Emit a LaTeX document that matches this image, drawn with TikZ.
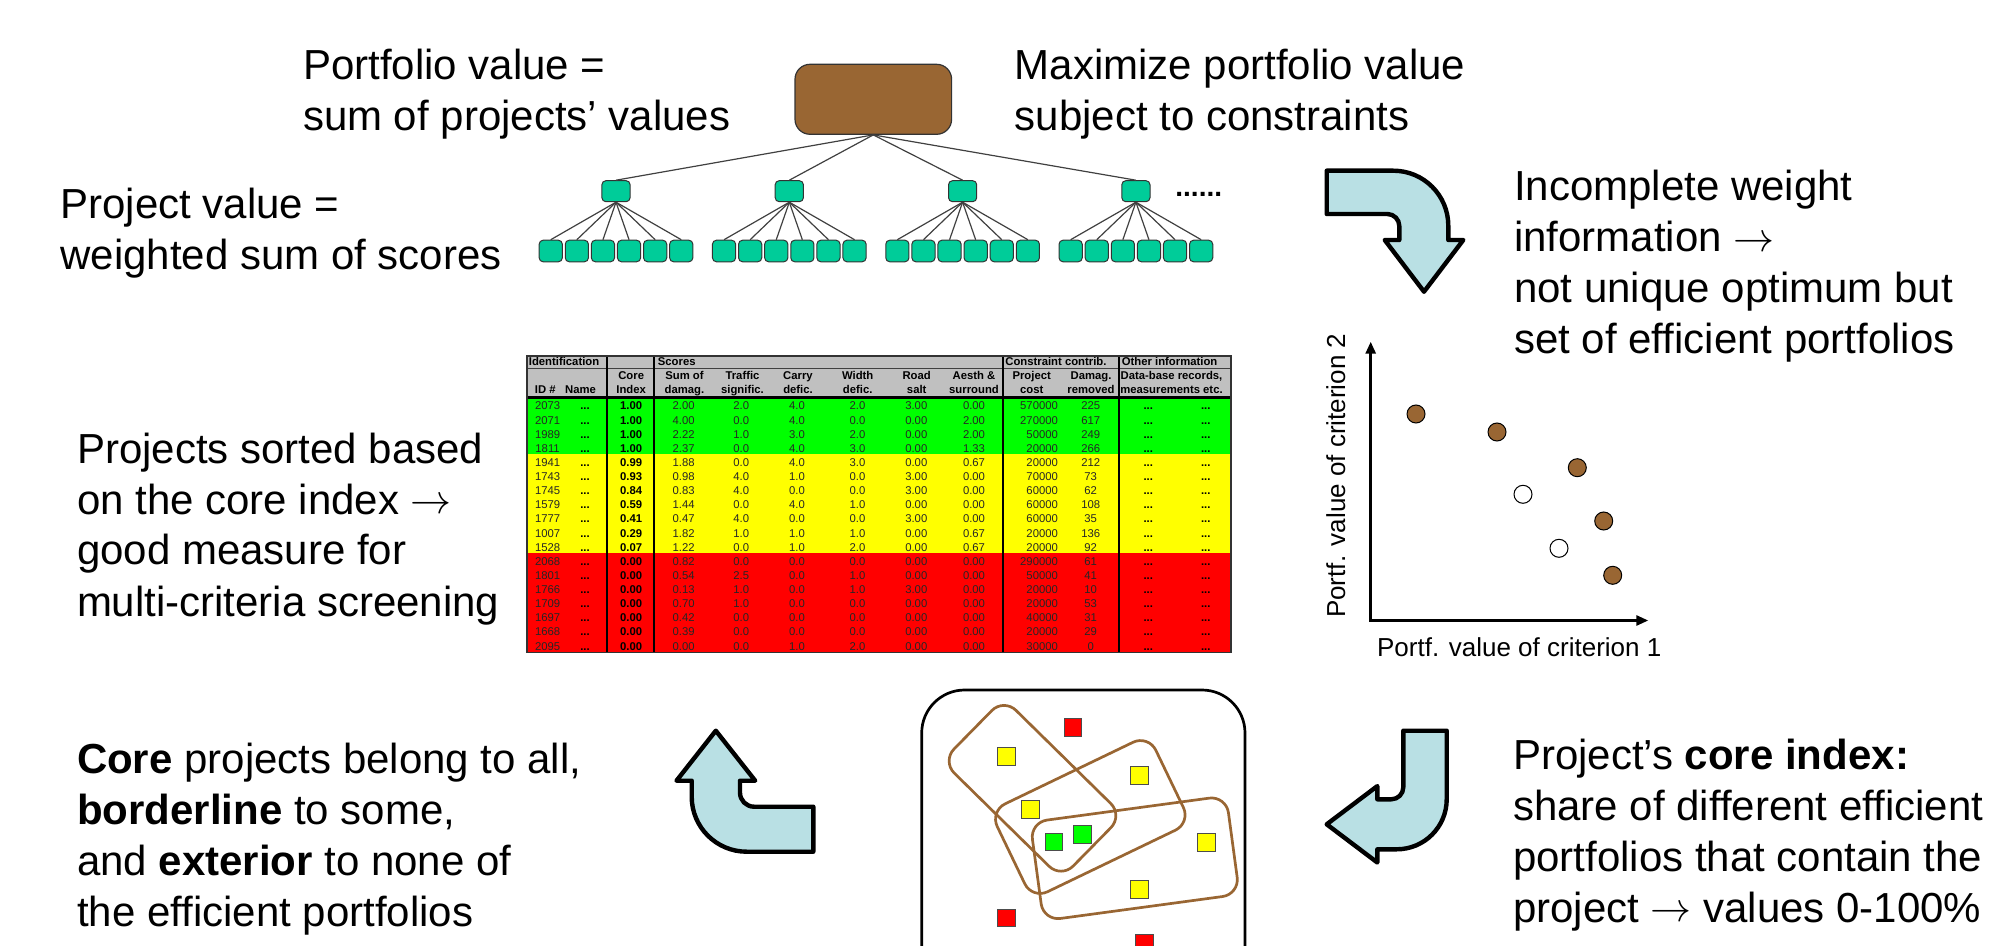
\documentclass[tikz,border=0pt]{standalone}
\usepackage{graphicx}
\usepackage{fontspec}
\setmainfont{Liberation Sans}
\usetikzlibrary{arrows.meta}
\newcommand{\myarrow}{\raisebox{0.3pt}{\scalebox{2.05}{\normalsize$\rightarrow$}}}
\definecolor{brownbox}{RGB}{153,102,51}
\definecolor{tealbox}{RGB}{0,204,153}
\definecolor{arrowfill}{RGB}{185,224,228}
\definecolor{hdrgray}{RGB}{192,192,192}
\definecolor{rowgreen}{RGB}{0,255,0}
\definecolor{rowyellow}{RGB}{255,255,0}
\definecolor{rowred}{RGB}{255,0,0}
\definecolor{linegray}{RGB}{64,64,64}
\tikzset{
  bigtext/.style={font=\fontsize{21}{25.5}\selectfont, anchor=base west, align=left, inner sep=0pt, outer sep=0pt},
  rootbox/.style={draw=black!80, line width=0.6pt, fill=brownbox, rounded corners=7.5pt, minimum width=78.3pt, minimum height=35pt, inner sep=0pt},
  midbox/.style={draw=black!80, line width=0.5pt, fill=tealbox, rounded corners=2pt, minimum width=14.1pt, minimum height=10.5pt, inner sep=0pt},
  leafbox/.style={draw=black!80, line width=0.5pt, fill=tealbox, rounded corners=2pt, minimum width=11.6pt, minimum height=10.8pt, inner sep=0pt},
  treeline/.style={draw=linegray, line width=0.6pt},
  bentarrow/.style={draw=black, line width=2.2pt, fill=arrowfill, line join=round},
  tcell/.style={font=\fontsize{5.65}{6.8}\selectfont, inner sep=0pt, anchor=base, text=black!85},
  tbold/.style={font=\fontsize{5.65}{6.8}\selectfont\bfseries, inner sep=0pt, anchor=base, text=black},
  thdr/.style={font=\fontsize{5.65}{6.8}\selectfont\bfseries, inner sep=0pt, anchor=base, align=center},
  tline/.style={draw=black, line width=1.1pt},
  tthin/.style={draw=black!75, line width=0.6pt},
  axis/.style={draw=black, line width=1.35pt, arrows={Triangle[length=6pt,width=5pt]-Triangle[length=6pt,width=5pt]}},
  axlabel/.style={font=\fontsize{13}{15}\selectfont, inner sep=0pt, anchor=base west},
  fulldot/.style={circle, draw=black, line width=0.5pt, fill=brownbox, minimum size=9pt, inner sep=0pt},
  emptydot/.style={circle, draw=black, line width=0.5pt, fill=white, minimum size=9pt, inner sep=0pt},
  setbox/.style={draw=brownbox, line width=1.35pt, rounded corners=8.5pt, inner sep=0pt},
  sq/.style={draw=black!70, line width=0.5pt, minimum size=8.75pt, inner sep=0pt},
}
\begin{document}
\begin{tikzpicture}[x=0.5pt,y=-0.5pt]
\useasboundingbox (0,0) rectangle (2014,946);
\begin{scope}
\clip (0,0) rectangle (2014,946);

% ---------- text blocks (anchor = baseline of last line) ----------
\node[bigtext] (t1) at (303,130.3) {Portfolio value =\\sum of projects’ values};
\node[bigtext] (t2) at (1014.7,130.3) {Maximize portfolio value\\subject to constraints};
\node[bigtext] (t3) at (60.4,270) {Project value =\\weighted sum of scores};
\node[bigtext] (t4) at (1514,354) {Incomplete weight\\information \myarrow\\not unique optimum but\\set of efficient portfolios};
\node[bigtext] (t5) at (77,616) {Projects sorted based\\on the core index \myarrow\\good measure for\\multi-criteria screening};
\node[bigtext] (t6) at (77,926) {\textbf{Core} projects belong to all,\\\textbf{borderline} to some,\\and \textbf{exterior} to none of\\the efficient portfolios};
\node[bigtext] (t7) at (1513,922) {Project’s \textbf{core index:}\\share of different efficient\\portfolios that contain the\\project \myarrow{} values 0-100\%};

% ---------- tree ----------
\node[rootbox] (root) at (873.3,99.3) {};
\foreach \g/\gx in {1/616,2/789.3,3/962.6,4/1135.9}{
  \node[midbox] (mid\g) at (\gx,191.2) {};
  \draw[treeline] (root.south) -- (mid\g.north);
  \foreach \j in {0,...,5}{
    \node[leafbox] (leaf\g-\j) at ({\gx+(\j-2.5)*26.1},251) {};
    \draw[treeline] (mid\g.south) -- (leaf\g-\j.north);
  }
}
\node[font=\fontsize{14}{14}\selectfont\bfseries, anchor=base west, inner sep=0pt] (dots) at (1175,197) {......};

% ---------- bent arrows ----------
\draw[bentarrow] (1326.7,170.7) -- (1393.3,170.7) .. controls (1423.7,170.7) and (1448.3,195.3) .. (1448.3,225.7)
  -- (1448.3,240) -- (1463.3,240) -- (1424,291.7) -- (1384.7,240) -- (1399.3,240) -- (1399.3,226)
  .. controls (1399.3,219.4) and (1393.9,214) .. (1387.3,214) -- (1326.7,214) -- cycle;
\draw[bentarrow] (1403.3,730.7) -- (1446.7,730.7) -- (1446.7,799.3) .. controls (1446.7,826.9) and (1424.3,849.3) .. (1396.7,849.3)
  -- (1377.3,849.3) -- (1377.3,862.5) -- (1326.7,824.3) -- (1377.3,786.1) -- (1377.3,799.3) -- (1391.3,799.3)
  .. controls (1397.9,799.3) and (1403.3,793.9) .. (1403.3,787.3) -- cycle;
\draw[bentarrow] (813.3,806.7) -- (813.3,851.7) -- (746.7,851.7) .. controls (716.3,851.7) and (691.7,827.1) .. (691.7,796.7)
  -- (691.7,780.7) -- (676.5,780.7) -- (715.8,730.7) -- (755.2,780.7) -- (740,780.7) -- (740,792.7)
  .. controls (740,800.4) and (746.3,806.7) .. (754,806.7) -- cycle;

% ---------- table ----------
\fill[hdrgray] (527,356) rectangle (1231,397.5);
\fill[rowgreen] (527,397.5) rectangle (1231,454.1);
\fill[rowyellow] (527,454.1) rectangle (1231,553.2);
\fill[rowred] (527,553.2) rectangle (1231,652.4);
\draw[tthin] (527,356) -- (1231,356);
\draw[tthin] (527,368.3) -- (1231,368.3);
\node[tbold, anchor=base west] (h1a) at (528.5,365.7) {Identification};
\node[tbold, anchor=base west] (h1b) at (657.5,365.7) {Scores};
\node[tbold, anchor=base west] (h1c) at (1005,365.7) {Constraint contrib.};
\node[tbold, anchor=base west] (h1d) at (1121.5,365.7) {Other information};
\node[thdr] (h2a) at (545.3,393.3) {ID \#};
\node[thdr] (h2b) at (580.5,393.3) {Name};
\node[thdr] (h2c) at (631.2,393.3) {Core\\Index};
\node[thdr] (h2d) at (684.5,393.3) {Sum of\\damag.};
\node[thdr] (h2e) at (742.5,393.3) {Traffic\\signific.};
\node[thdr] (h2f) at (798,393.3) {Carry\\defic.};
\node[thdr] (h2g) at (857.7,393.3) {Width\\defic.};
\node[thdr] (h2h) at (916.7,393.3) {Road\\salt};
\node[thdr] (h2i) at (974,393.3) {Aesth \&\\surround};
\node[thdr] (h2j) at (1031.7,393.3) {Project\\cost};
\node[thdr] (h2k) at (1091,393.3) {Damag.\\removed};
\node[thdr] (h2l) at (1171.5,393.3) {Data-base records,\\measurements etc.};
\foreach \id/\co/\sa/\tr/\ca/\wi/\rs/\ae/\pc/\dr [count=\i from 0] in {
2073/1.00/2.00/2.0/4.0/2.0/3.00/0.00/570000/225,
2071/1.00/4.00/0.0/4.0/0.0/0.00/2.00/270000/617,
1989/1.00/2.22/1.0/3.0/2.0/0.00/2.00/50000/249,
1811/1.00/2.37/0.0/4.0/3.0/0.00/1.33/20000/266,
1941/0.99/1.88/0.0/4.0/3.0/0.00/0.67/20000/212,
1743/0.93/0.98/4.0/1.0/0.0/3.00/0.00/70000/73,
1745/0.84/0.83/4.0/0.0/0.0/3.00/0.00/60000/62,
1579/0.59/1.44/0.0/4.0/1.0/0.00/0.00/60000/108,
1777/0.41/0.47/4.0/0.0/0.0/3.00/0.00/60000/35,
1007/0.29/1.82/1.0/1.0/1.0/0.00/0.67/20000/136,
1528/0.07/1.22/0.0/1.0/2.0/0.00/0.67/20000/92,
2068/0.00/0.82/0.0/0.0/0.0/0.00/0.00/290000/61,
1801/0.00/0.54/2.5/0.0/1.0/0.00/0.00/50000/41,
1766/0.00/0.13/1.0/0.0/1.0/3.00/0.00/20000/10,
1709/0.00/0.70/1.0/0.0/0.0/0.00/0.00/20000/53,
1697/0.00/0.42/0.0/0.0/0.0/0.00/0.00/40000/31,
1668/0.00/0.39/0.0/0.0/0.0/0.00/0.00/20000/29,
2095/0.00/0.00/0.0/1.0/2.0/0.00/0.00/30000/0}{
  \pgfmathsetmacro{\yb}{410+14.12*\i}
  \node[tcell] (id\i) at (547.6,\yb) {\id};
  \node[tbold] (nm\i) at (585,\yb) {...};
  \node[tbold] (co\i) at (631.2,\yb) {\co};
  \node[tcell] (sa\i) at (683.7,\yb) {\sa};
  \node[tcell] (tr\i) at (741.3,\yb) {\tr};
  \node[tcell] (ca\i) at (797,\yb) {\ca};
  \node[tcell] (wi\i) at (857.5,\yb) {\wi};
  \node[tcell] (rs\i) at (916.3,\yb) {\rs};
  \node[tcell] (ae\i) at (974,\yb) {\ae};
  \node[tcell, anchor=base east] (pc\i) at (1058.3,\yb) {\pc};
  \node[tcell] (dr\i) at (1090.7,\yb) {\dr};
  \node[tbold] (oa\i) at (1148.3,\yb) {...};
  \node[tbold] (ob\i) at (1205.7,\yb) {...};
}
\draw[tline] (527,397.5) -- (1231,397.5);
\foreach \vx in {606.7,654.3,1003.3,1119.3}{
  \draw[tline] (\vx,356) -- (\vx,652.4);
}
\draw[draw=black!80, line width=0.9pt] (527,356) rectangle (1231,652.4);

% ---------- scatter plot ----------
\coordinate (orig) at (1370.7,620.5);
\coordinate (ytip) at (1370.7,341.7);
\coordinate (xtip) at (1648.3,620.5);
\draw[axis] (ytip) -- (orig) -- (xtip);
\node[axlabel] (xlab) at (1376.7,656.7) {Portf. value of criterion 1};
\node[axlabel, rotate=90] (ylab) at (1345,618.3) {Portf. value of criterion 2};
\node[fulldot] (p1) at (1416,414) {};
\node[fulldot] (p2) at (1497,432) {};
\node[fulldot] (p3) at (1577.3,467.7) {};
\node[emptydot] (p4) at (1523,494.3) {};
\node[fulldot] (p5) at (1603.7,521) {};
\node[emptydot] (p6) at (1559,548.3) {};
\node[fulldot] (p7) at (1612.7,575.3) {};

% ---------- portfolio sets ----------
\draw[line width=1.35pt, rounded corners=21.5pt] (921.7,690) rectangle (1245,1000);
\node[setbox, minimum width=83.5pt, minimum height=44pt, rotate=-44.5] (setA) at (1032.5,788.3) {};
\node[setbox, minimum width=88pt, minimum height=48.8pt, rotate=25.7] (setB) at (1090.3,817) {};
\node[setbox, minimum width=98.9pt, minimum height=49.65pt, rotate=7.7] (setC) at (1134.8,858.3) {};
\node[sq, fill=rowred] (r1) at (1073,727.7) {};
\node[sq, fill=rowred] (r2) at (1006.3,918) {};
\node[sq, fill=rowred] (r3) at (1144.3,943) {};
\node[sq, fill=rowyellow] (y1) at (1006.3,756.7) {};
\node[sq, fill=rowyellow] (y2) at (1139.3,775.7) {};
\node[sq, fill=rowyellow] (y3) at (1030.7,809.3) {};
\node[sq, fill=rowyellow] (y4) at (1206.3,842.3) {};
\node[sq, fill=rowyellow] (y5) at (1139.3,889.3) {};
\node[sq, fill=rowgreen] (g1) at (1054,842) {};
\node[sq, fill=rowgreen] (g2) at (1082.7,834.3) {};
\end{scope}
\end{tikzpicture}
\end{document}
